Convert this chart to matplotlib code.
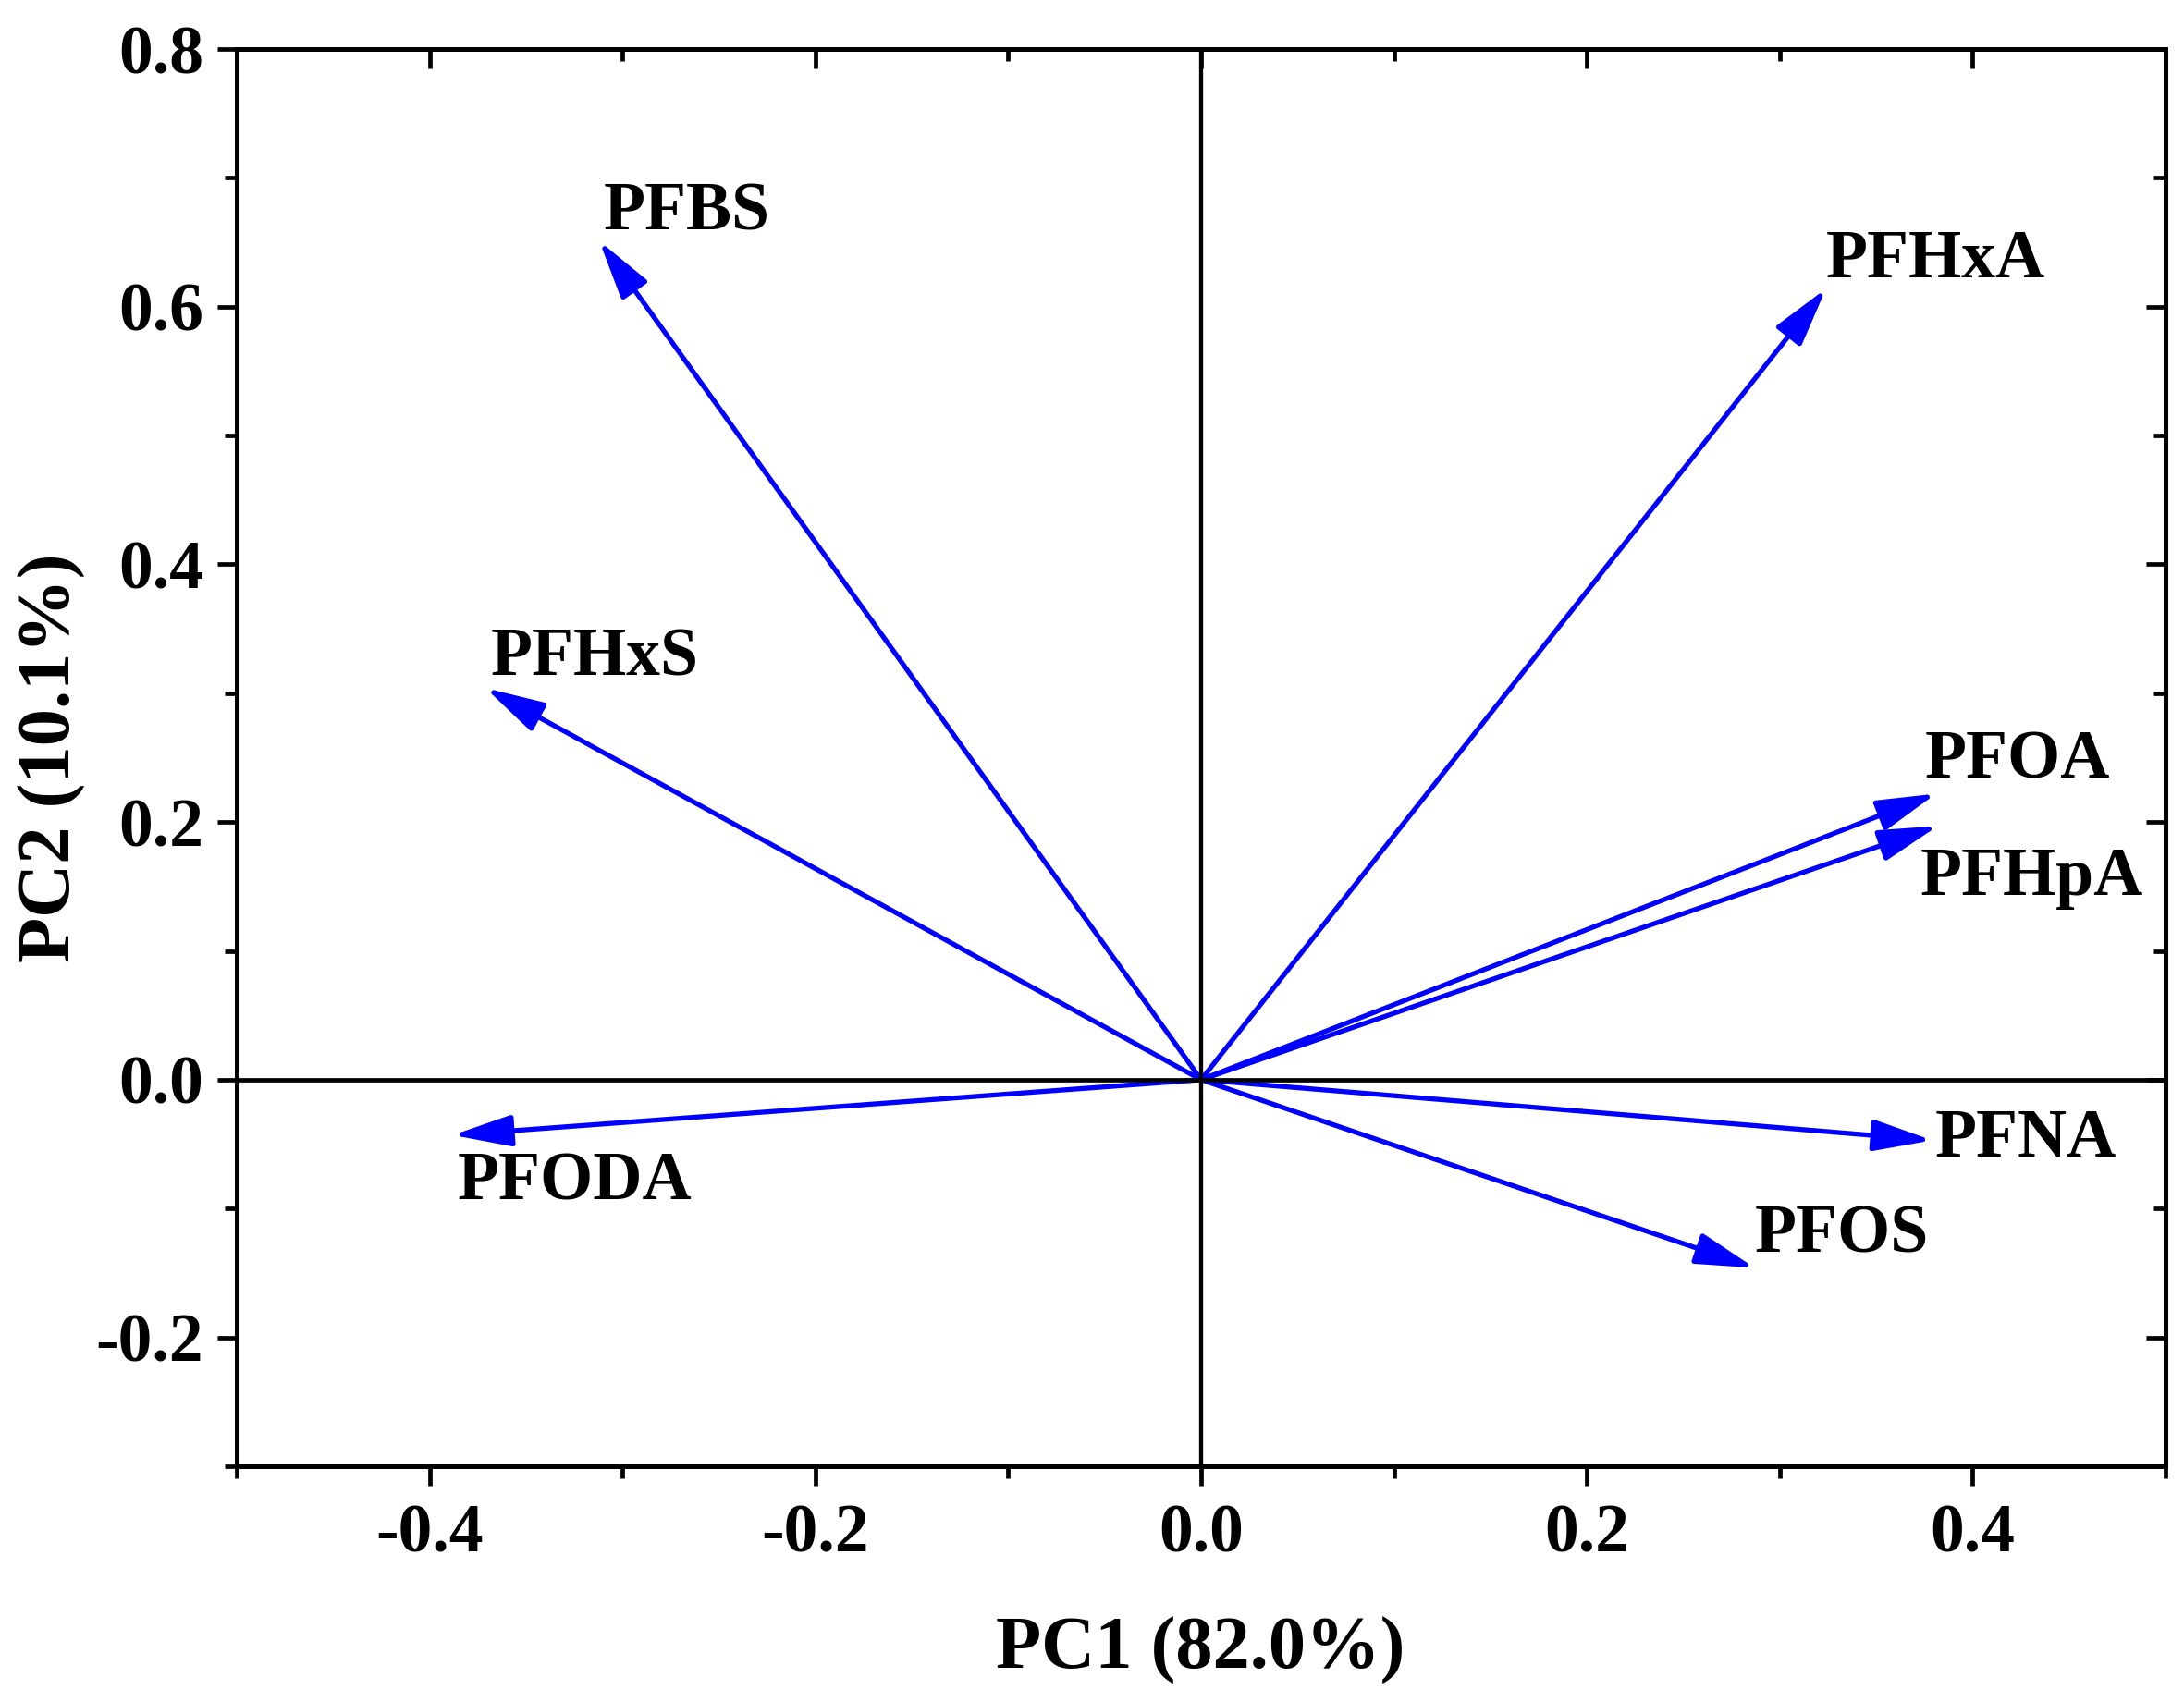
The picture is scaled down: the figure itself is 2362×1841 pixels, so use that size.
import matplotlib
matplotlib.use("Agg")
import matplotlib.pyplot as plt
from matplotlib.ticker import MultipleLocator, FormatStrFormatter

# loadings (arrow tips)
names = ["PFBS", "PFHxA", "PFHxS", "PFOA", "PFHpA", "PFODA", "PFNA", "PFOS"]
pc1 = [-0.312, 0.324, -0.371, 0.381, 0.382, -0.388, 0.379, 0.287]
pc2 = [0.651, 0.614, 0.304, 0.222, 0.197, -0.043, -0.047, -0.146]

x_label = "PC1 (82.0%)"
y_label = "PC2 (10.1%)"

# label offsets from arrow tip, in points
label_offsets = [(3, 9), (0, 9), (4, 10), (-9, 12), (-14, -54), (4, -50), (2.5, -12.7), (0, 12)]

plt.rcParams["font.family"] = ["Liberation Serif", "DejaVu Serif"]
plt.rcParams["font.weight"] = "bold"

fig = plt.figure(figsize=(23.62, 18.41), dpi=100)
ax = fig.add_axes([0.10838, 0.13851, 0.88315, 0.83270])

ax.set_xlim(-0.5, 0.5)
ax.set_ylim(-0.3, 0.8)

# zero lines
ax.axhline(0, color="black", lw=3.4, zorder=2.5)
ax.axvline(0, color="black", lw=3.1, zorder=2.5)

for name, x, y, off in zip(names, pc1, pc2, label_offsets):
    ax.annotate("", xy=(x, y), xytext=(0, 0),
                arrowprops=dict(arrowstyle="-|>,head_length=1.95,head_width=0.52",
                                mutation_scale=20, color="blue", lw=3.8,
                                shrinkA=0, shrinkB=0),
                zorder=2)
    ax.annotate(name, xy=(x, y), xytext=off, textcoords="offset points",
                ha="left", va="baseline", fontsize=53, fontweight="bold")

for s in ax.spines.values():
    s.set_linewidth(3.6)

ax.xaxis.set_major_locator(MultipleLocator(0.2))
ax.xaxis.set_minor_locator(MultipleLocator(0.1))
ax.yaxis.set_major_locator(MultipleLocator(0.2))
ax.yaxis.set_minor_locator(MultipleLocator(0.1))
ax.xaxis.set_major_formatter(FormatStrFormatter("%.1f"))
ax.yaxis.set_major_formatter(FormatStrFormatter("%.1f"))

ax.tick_params(which="both", direction="out", width=3.4, labelsize=53)
ax.tick_params(which="major", length=15)
ax.tick_params(which="minor", length=9.4)
ax.tick_params(axis="x", which="major", pad=14)
ax.tick_params(axis="y", which="major", pad=11)

# mirrored ticks pointing inward on top and right
top = ax.secondary_xaxis("top")
right = ax.secondary_yaxis("right")
for sec, axis in ((top, top.xaxis), (right, right.yaxis)):
    axis.set_major_locator(MultipleLocator(0.2))
    axis.set_minor_locator(MultipleLocator(0.1))
    sec.tick_params(which="both", direction="in", width=3.4,
                    labeltop=False, labelright=False, labelbottom=False, labelleft=False)
    sec.tick_params(which="major", length=15)
    sec.tick_params(which="minor", length=9.4)
    for s in sec.spines.values():
        s.set_linewidth(3.6)

fig.text(0.5497, 0.01955, x_label, ha="center", va="baseline",
         fontsize=58, fontweight="bold")
fig.text(0.0322, 0.5546, y_label, ha="center", va="baseline", rotation=90,
         rotation_mode="anchor", fontsize=58, fontweight="bold")

fig.savefig("out.png", dpi=100)
